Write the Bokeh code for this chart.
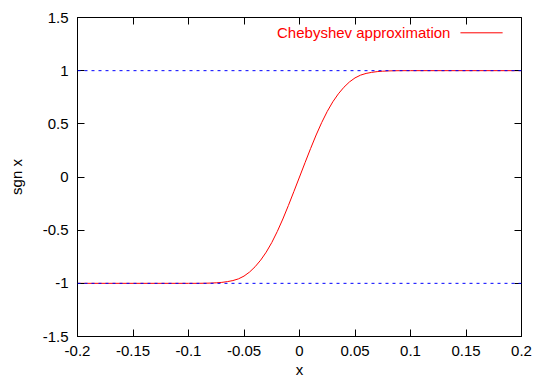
from bokeh.plotting import figure
from bokeh.models import (Range1d, FixedTicker, LinearAxis, Span, Label, Arrow,
                          CustomJSTickFormatter)
from bokeh.embed import file_html
from bokeh.resources import INLINE

# ---- data ----
x_vals = [-0.2, -0.15, -0.1, -0.095, -0.09, -0.085, -0.08, -0.075, -0.07, -0.065,
          -0.06, -0.055, -0.05, -0.045, -0.04, -0.035, -0.03, -0.025, -0.02, -0.015,
          -0.01, -0.005, 0.0, 0.005, 0.01, 0.015, 0.02, 0.025, 0.03, 0.035,
          0.04, 0.045, 0.05, 0.055, 0.06, 0.065, 0.07, 0.075, 0.08, 0.085,
          0.09, 0.095, 0.1, 0.15, 0.2]
y_vals = [-1.0, -1.0, -1.0, -1.0, -0.9997, -0.999, -0.9975, -0.995, -0.991, -0.984,
          -0.974, -0.958, -0.932, -0.894, -0.844, -0.782, -0.707, -0.617, -0.512, -0.395,
          -0.268, -0.135, 0.0, 0.135, 0.268, 0.395, 0.512, 0.617, 0.707, 0.782,
          0.844, 0.894, 0.932, 0.958, 0.974, 0.984, 0.991, 0.995, 0.9975, 0.999,
          0.9997, 1.0, 1.0, 1.0, 1.0]
x_ticks = [-0.2, -0.15, -0.1, -0.05, 0, 0.05, 0.1, 0.15, 0.2]
y_ticks = [-1.5, -1, -0.5, 0, 0.5, 1, 1.5]
ref_levels = [-1, 1]
series_name = "Chebyshev approximation"
x_title = "x"
y_title = "sgn x"

FONT = "Liberation Sans"
FS = "15px"

p = figure(width=545, height=382,
           x_range=Range1d(-0.2, 0.2), y_range=Range1d(-1.5, 1.5),
           output_backend="svg", toolbar_location=None,
           min_border_left=77, min_border_right=24,
           min_border_top=17, min_border_bottom=46)
p.grid.visible = False
p.outline_line_color = "black"
p.outline_line_width = 1
p.background_fill_color = "white"
p.border_fill_color = "white"

fmt = CustomJSTickFormatter(code="return String(tick);")
blank = CustomJSTickFormatter(code="return '';")

def style(ax, ticks, show_labels, standoff):
    ax.ticker = FixedTicker(ticks=ticks)
    ax.major_tick_in = 7
    ax.major_tick_out = 0
    ax.minor_tick_line_color = None
    ax.major_tick_line_color = "black"
    ax.axis_line_color = "black"
    ax.major_label_standoff = standoff
    ax.major_label_text_font = FONT
    ax.major_label_text_color = "black"
    if show_labels:
        ax.formatter = fmt
        ax.major_label_text_font_size = FS
    else:
        ax.formatter = blank
        ax.major_label_text_font_size = "8px"
        ax.axis_line_color = None

def title(ax, text, standoff):
    ax.axis_label = text
    ax.axis_label_text_font = FONT
    ax.axis_label_text_font_size = FS
    ax.axis_label_text_font_style = "normal"
    ax.axis_label_text_color = "black"
    ax.axis_label_standoff = standoff

xa = p.xaxis[0]
ya = p.yaxis[0]
style(xa, x_ticks, True, 9)
style(ya, y_ticks, True, 9)
title(xa, x_title, 2)
title(ya, y_title, 15)

top = LinearAxis()
style(top, x_ticks, False, 0)
p.add_layout(top, "above")
right = LinearAxis()
style(right, y_ticks, False, 0)
p.add_layout(right, "right")

# curve
p.line(x_vals, y_vals, line_color="#ff0000", line_width=1)

# reference levels
for lv in ref_levels:
    p.add_layout(Span(location=lv, dimension="width", line_color="#0000ff",
                      line_width=1, line_dash="3 4"))

# legend (gnuplot style: text then sample line)
LEG_Y = 1.356
p.add_layout(Label(x=0.136, y=LEG_Y, text=series_name, text_align="right",
                   text_baseline="middle", text_font=FONT, text_font_size=FS,
                   text_color="#ff0000"))
p.add_layout(Arrow(x_start=0.145, y_start=LEG_Y, x_end=0.183, y_end=LEG_Y,
                   end=None, start=None, line_color="#ff0000", line_width=1))

open("out.html", "w").write(file_html(p, INLINE))
